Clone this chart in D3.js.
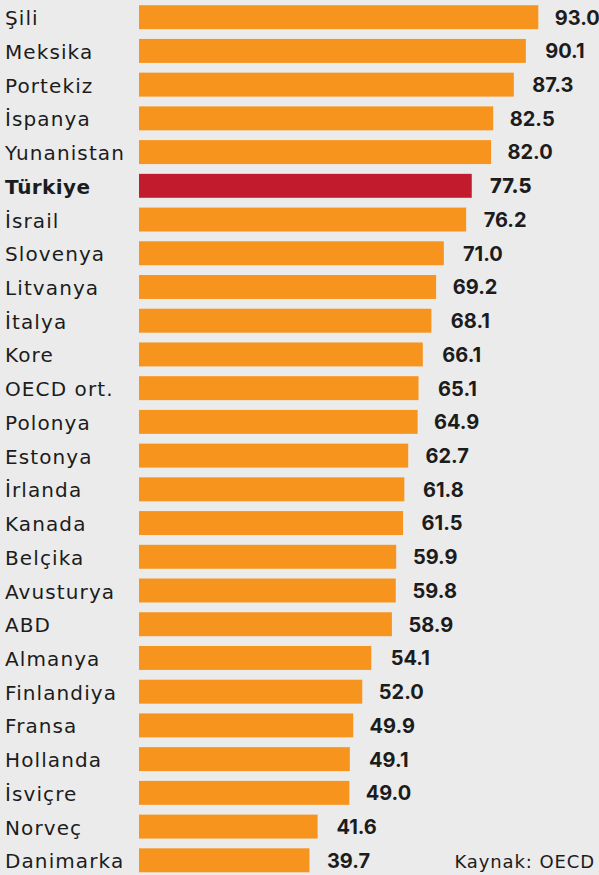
<!DOCTYPE html>
<html>
<head>
<meta charset="utf-8">
<script src="https://cdn.jsdelivr.net/npm/d3@7"></script>
<style>
  html, body { margin: 0; padding: 0; background: #ebebeb; }
  svg { display: block; }
</style>
</head>
<body>
<div id="chart"></div>
<script>
// countries, top to bottom
var countries = ['Şili', 'Meksika', 'Portekiz', 'İspanya', 'Yunanistan', 'Türkiye', 'İsrail',
  'Slovenya', 'Litvanya', 'İtalya', 'Kore', 'OECD ort.', 'Polonya', 'Estonya', 'İrlanda',
  'Kanada', 'Belçika', 'Avusturya', 'ABD', 'Almanya', 'Finlandiya', 'Fransa', 'Hollanda',
  'İsviçre', 'Norveç', 'Danimarka'];
var values = [93.0, 90.1, 87.3, 82.5, 82.0, 77.5, 76.2, 71.0, 69.2, 68.1, 66.1, 65.1, 64.9,
  62.7, 61.8, 61.5, 59.9, 59.8, 58.9, 54.1, 52.0, 49.9, 49.1, 49.0, 41.6, 39.7];
var highlight = 'Türkiye';
var source = 'Kaynak: OECD';

var width = 599, height = 875;
var labelFont = '"DejaVu Sans", Inter, sans-serif';
var valueFont = 'Inter, "DejaVu Sans", sans-serif';

var data = countries.map(function(c, i) { return {name: c, value: values[i]}; });

var svg = d3.select('#chart').append('svg')
    .attr('width', width)
    .attr('height', height);

svg.append('rect').attr('width', width).attr('height', height).attr('fill', '#ebebeb');

var x = d3.scaleLinear().domain([0, 93]).range([139, 538.3]);
var y = d3.scaleBand().domain(countries).range([0.5, 877]).paddingInner(0.29).paddingOuter(0.14);

var rows = svg.selectAll('g.row')
    .data(data)
    .enter()
    .append('g')
    .attr('class', 'row');

rows.append('rect')
    .attr('x', x(0))
    .attr('y', function(d) { return y(d.name); })
    .attr('width', function(d) { return x(d.value) - x(0); })
    .attr('height', y.bandwidth())
    .attr('fill', function(d) { return d.name === highlight ? '#c21b2d' : '#f7941d'; });

// country names
rows.append('text')
    .attr('x', 5)
    .attr('y', function(d) { return y(d.name) + y.bandwidth() / 2; })
    .attr('dy', '0.4em')
    .attr('font-family', labelFont)
    .attr('font-size', 20)
    .attr('letter-spacing', function(d) { return d.name === highlight ? 0.4 : 1.1; })
    .attr('font-weight', function(d) { return d.name === highlight ? 700 : 400; })
    .attr('fill', '#1c1c1c')
    .text(function(d) { return d.name; });

// value labels
rows.append('text')
    .attr('x', function(d) { return x(d.value) + 39; })
    .attr('y', function(d) { return y(d.name) + y.bandwidth() / 2; })
    .attr('dy', '0.37em')
    .attr('text-anchor', 'middle')
    .attr('font-family', valueFont)
    .attr('font-size', 20)
    .attr('font-weight', function(d) { return d.name === highlight ? 800 : 700; })
    .attr('fill', '#1c1c1c')
    .text(function(d) { return d3.format('.1f')(d.value); });

svg.append('text')
    .attr('x', 595)
    .attr('y', y('Danimarka') + y.bandwidth() / 2)
    .attr('dy', '0.4em')
    .attr('text-anchor', 'end')
    .attr('font-family', labelFont)
    .attr('font-size', 18)
    .attr('letter-spacing', 0.9)
    .attr('fill', '#1c1c1c')
    .text(source);
</script>
</body>
</html>
